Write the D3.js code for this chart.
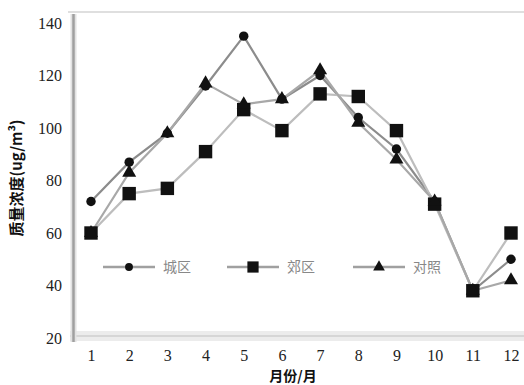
<!DOCTYPE html>
<html>
<head>
<meta charset="utf-8">
<script src="https://cdn.jsdelivr.net/npm/d3@7"></script>
<style>
  html, body { margin: 0; padding: 0; background: #fff; }
  svg { display: block; }
</style>
</head>
<body>
<svg id="chart" width="524" height="385"></svg>
<script>
// Monthly mass concentration at three sites (ug/m3)
const months = [1, 2, 3, 4, 5, 6, 7, 8, 9, 10, 11, 12];
const seriesNames = ["城区", "郊区", "对照"];
const siteA = [72, 87, 98, 116, 135, 111, 120, 104, 92, 72, 38, 50];   // circle
const siteB = [60, 75, 77, 91, 107, 99, 113, 112, 99, 71, 38, 60];     // square
const siteC = [60, 83, 98, 117, 109, 111, 122, 102, 88, 72, 38, 42];   // triangle
const yTicks = [20, 40, 60, 80, 100, 120, 140];
const xTitle = "月份/月";
const yTitle = "质量浓度(ug/m³)";

const svg = d3.select("#chart");

const x = d3.scaleLinear().domain([1, 12]).range([91, 511]);
const y = d3.scaleLinear().domain([20, 140]).range([338, 23]);

// Frame: top border, bottom band, left axis
svg.append("line").attr("x1", 68).attr("x2", 524).attr("y1", 12).attr("y2", 12)
  .attr("stroke", "#d4d4d4").attr("stroke-width", 1.5);
svg.append("rect").attr("x", 70).attr("y", 331).attr("width", 454).attr("height", 10)
  .attr("fill", "#ececec");
svg.append("line").attr("x1", 70).attr("x2", 524).attr("y1", 336).attr("y2", 336)
  .attr("stroke", "#d6d6d6").attr("stroke-width", 2);
svg.append("line").attr("x1", 73.5).attr("x2", 73.5).attr("y1", 14).attr("y2", 342)
  .attr("stroke", "#e2e2e2").attr("stroke-width", 6);
svg.append("line").attr("x1", 73.5).attr("x2", 73.5).attr("y1", 14).attr("y2", 342)
  .attr("stroke", "#a0a0a0").attr("stroke-width", 2.5);

// Y axis labels
const yAxis = d3.axisLeft(y).tickValues(yTicks).tickSize(0).tickPadding(0);
const gy = svg.append("g").attr("transform", "translate(62,0)").call(yAxis);
gy.select(".domain").remove();
gy.selectAll("text")
  .attr("font-family", "'Liberation Serif', 'DejaVu Serif', serif")
  .attr("font-size", 16).attr("fill", "#222");

// X axis labels
const xAxis = d3.axisBottom(x).tickValues(months).tickSize(0).tickPadding(0)
  .tickFormat(d3.format("d"));
const gx = svg.append("g").attr("transform", "translate(0,350)").call(xAxis);
gx.select(".domain").remove();
gx.selectAll("text")
  .attr("font-family", "'Liberation Serif', 'DejaVu Serif', serif")
  .attr("font-size", 16).attr("fill", "#222");

// Axis titles
svg.append("text").attr("x", 293).attr("y", 381)
  .attr("text-anchor", "middle")
  .attr("font-family", "'Noto Sans CJK SC', sans-serif").attr("font-weight", "bold")
  .attr("font-size", 14).attr("fill", "#111").text(xTitle);
svg.append("text")
  .attr("transform", "translate(22,178) rotate(-90)")
  .attr("text-anchor", "middle")
  .attr("font-family", "'Noto Sans CJK SC', sans-serif").attr("font-weight", "bold")
  .attr("font-size", 15).attr("fill", "#111").text(yTitle);

// Series
const series = [
  { name: seriesNames[0], values: siteA, stroke: "#8c8c8c", shape: d3.symbolCircle, size: 70 },
  { name: seriesNames[1], values: siteB, stroke: "#bdbdbd", shape: d3.symbolSquare, size: 180 },
  { name: seriesNames[2], values: siteC, stroke: "#a8a8a8", shape: d3.symbolTriangle, size: 85 }
];

const line = d3.line().x((d, i) => x(months[i])).y(d => y(d));

series.forEach(s => {
  svg.append("path").datum(s.values)
    .attr("d", line).attr("fill", "none")
    .attr("stroke", s.stroke).attr("stroke-width", 2.2);
});

series.forEach(s => {
  svg.append("g").selectAll("path").data(s.values).join("path")
    .attr("transform", (d, i) => `translate(${x(months[i])},${y(d)})`)
    .attr("d", d3.symbol().type(s.shape).size(s.size))
    .attr("fill", "#111");
});

// Legend
const legendX = [103, 227, 353];
const legendY = 267;
series.forEach((s, i) => {
  const g = svg.append("g").attr("transform", `translate(${legendX[i]},${legendY})`);
  g.append("line").attr("x1", 0).attr("x2", 52).attr("y1", 0).attr("y2", 0)
    .attr("stroke", "#a0a0a0").attr("stroke-width", 2.5);
  g.append("path").attr("transform", "translate(26,0)")
    .attr("d", d3.symbol().type(s.shape).size(s.size * 0.7)).attr("fill", "#111");
  g.append("text").attr("x", 60).attr("y", 5)
    .attr("font-family", "'Noto Sans CJK SC', sans-serif")
    .attr("font-size", 14).attr("fill", "#888").text(s.name);
});
</script>
</body>
</html>
